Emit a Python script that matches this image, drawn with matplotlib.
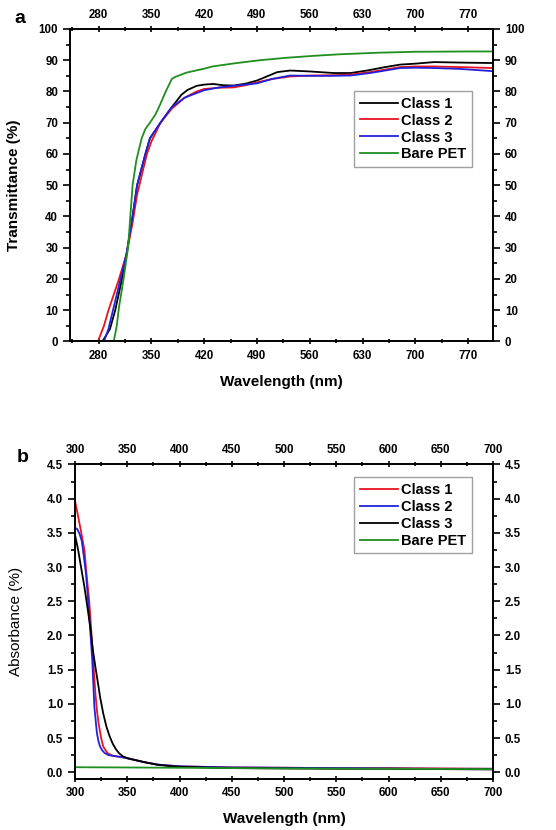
#UV-vis spectra, two stacked panels
import matplotlib.pyplot as plt
from matplotlib.ticker import MultipleLocator

plt.rcParams['font.family'] = ['Liberation Sans', 'DejaVu Sans']

# ---- panel a: transmittance data ----
x_a_c1 = [250, 285, 295, 302, 310, 317, 325, 331, 342, 348, 362, 377, 390, 398, 410, 420, 432, 445, 459,
          475, 490, 505, 517, 534, 560, 592, 614, 636, 660, 680, 700, 725, 770, 803]
t_c1 = [0, 0, 4, 10, 19, 28, 40, 50, 60, 65, 70, 75, 79, 80.5, 81.8, 82.2, 82.4, 82.0, 81.9,
        82.5, 83.5, 85.0, 86.2, 86.7, 86.4, 85.9, 85.9, 86.7, 87.8, 88.6, 88.9, 89.4, 89.2, 89.1]

x_a_c2 = [250, 279, 287, 293, 300, 307, 317, 325, 331, 344, 350, 362, 377, 394, 410, 420, 440, 459,
          475, 490, 510, 534, 560, 590, 614, 640, 680, 700, 725, 760, 803]
t_c2 = [0, 0, 5, 10, 15, 20, 28, 38, 47, 60, 64, 70, 74.5, 78, 80, 80.8, 81.2, 81.3,
        82, 82.9, 84, 84.8, 85.1, 85.2, 85.4, 86.2, 87.8, 88, 88, 87.8, 87.5]

x_a_c3 = [250, 287, 293, 299, 306, 312, 317, 325, 331, 342, 348, 362, 377, 394, 410, 420, 440, 459,
          475, 490, 510, 534, 560, 590, 614, 640, 680, 700, 725, 760, 803]
t_c3 = [0, 0, 4, 10, 17, 23, 28, 40, 50, 60, 65, 70, 75, 78, 79.5, 80.4, 81.3, 81.8,
        82.2, 82.6, 84, 85.1, 85.0, 85.0, 85.1, 85.9, 87.5, 87.6, 87.5, 87.2, 86.5]

x_a_pet = [250, 300, 304, 307, 313, 319, 325, 330, 337, 342, 348, 355, 360, 369, 377, 381, 396, 420,
           431, 460, 494, 530, 565, 600, 650, 700, 770, 803]
t_pet = [0, 0, 5, 11, 20, 30, 50, 58, 65, 68, 70, 72.5, 75, 80, 84, 84.6, 86, 87.3,
         88, 89, 90, 90.8, 91.4, 91.9, 92.4, 92.7, 92.8, 92.8]

# ---- panel b: absorbance data ----
x_b_c1 = [300, 303, 306, 309, 311, 313.5, 315, 316.5, 318, 319.5, 321, 322.5, 325, 327, 331, 336,
          345, 352, 365, 380, 400, 450, 500, 550, 600, 650, 700]
a_c1 = [3.97, 3.74, 3.5, 3.25, 2.9, 2.52, 2.2, 1.84, 1.5, 1.15, 0.9, 0.72, 0.5, 0.375, 0.28, 0.24,
        0.22, 0.2, 0.15, 0.11, 0.085, 0.07, 0.065, 0.06, 0.06, 0.055, 0.05]

x_b_c2 = [300, 302, 304.5, 306.5, 308.5, 310.5, 312, 313.5, 315, 316.5, 317.5, 318.5, 320, 321, 322.5,
          324, 326, 328.4, 332, 336, 345, 351, 365, 380, 400, 450, 500, 550, 600, 650, 700]
a_c2 = [3.57, 3.56, 3.48, 3.38, 3.15, 2.9, 2.62, 2.32, 1.98, 1.64, 1.3, 0.96, 0.72, 0.57, 0.45,
        0.375, 0.32, 0.28, 0.25, 0.24, 0.22, 0.2, 0.15, 0.11, 0.085, 0.07, 0.065, 0.06, 0.055, 0.05, 0.05]

x_b_c3 = [300, 303, 306, 309, 312, 315, 317, 319.5, 322, 324, 327, 330, 333, 336, 339, 342, 346, 351,
          357, 363, 370, 378, 390, 400, 425, 450, 500, 550, 600, 650, 700]
a_c3 = [3.47, 3.25, 2.98, 2.71, 2.4, 2.08, 1.8, 1.54, 1.3, 1.1, 0.86, 0.67, 0.53, 0.42, 0.34, 0.28, 0.23, 0.2,
        0.18, 0.16, 0.135, 0.11, 0.09, 0.08, 0.07, 0.06, 0.055, 0.05, 0.05, 0.045, 0.04]

x_b_pet = [300, 400, 500, 600, 700]
a_pet = [0.073, 0.065, 0.055, 0.05, 0.045]

legend_labels = ['Class 1', 'Class 2', 'Class 3', 'Bare PET']

red = '#e8141c'
blue = '#2222dd'
green = '#1f8f1f'

fig = plt.figure(figsize=(5.56, 8.30), dpi=100)
ax1 = fig.add_axes([0.1259, 0.5886, 0.7608, 0.3765])
ax2 = fig.add_axes([0.1349, 0.0614, 0.7518, 0.3790])


def style_axes(ax):
    for s in ax.spines.values():
        s.set_linewidth(1.4)
    ax.tick_params(which='both', top=True, right=True, labeltop=True, labelright=True,
                   labelsize=8.3, width=1.2)
    ax.tick_params(axis='x', which='both', direction='inout')
    ax.tick_params(axis='y', which='both', direction='out')
    ax.tick_params(which='major', length=5)
    ax.tick_params(which='minor', length=3)
    for lab in ax.get_xticklabels() + ax.get_yticklabels():
        lab.set_fontweight('bold')


def add_legend(ax, x0, y0):
    leg = ax.legend(loc='upper left', bbox_to_anchor=(x0, y0), fancybox=False,
                    edgecolor='#888888', prop={'weight': 'bold', 'size': 10.5},
                    handlelength=2.6, handletextpad=0.25, labelspacing=0.2,
                    borderpad=0.4, borderaxespad=0)
    leg.get_frame().set_linewidth(1.0)


# panel a
ax1.plot(x_a_c1, t_c1, color='black', lw=1.3, label=legend_labels[0])
ax1.plot(x_a_c2, t_c2, color=red, lw=1.3, label=legend_labels[1])
ax1.plot(x_a_c3, t_c3, color=blue, lw=1.3, label=legend_labels[2])
ax1.plot(x_a_pet, t_pet, color=green, lw=1.3, label=legend_labels[3])
ax1.set_xlim(242, 803)
ax1.set_ylim(0, 100)
ax1.set_xticks(range(280, 800, 70))
ax1.xaxis.set_minor_locator(MultipleLocator(35))
ax1.set_yticks(range(0, 101, 10))
ax1.yaxis.set_minor_locator(MultipleLocator(5))
style_axes(ax1)
ax1.set_xlabel('Wavelength (nm)', fontsize=11, fontweight='bold')
ax1.xaxis.set_label_coords(0.5, -0.107)
ax1.set_ylabel('Transmittance (%)', fontsize=11, fontweight='bold')
ax1.yaxis.set_label_coords(-0.116, 0.5)
add_legend(ax1, 0.671, 0.802)
fig.text(0.025, 0.978, 'a', fontsize=14, fontweight='bold', ha='left', va='center')

# panel b
ax2.plot(x_b_c1, a_c1, color=red, lw=1.3, label=legend_labels[0])
ax2.plot(x_b_c2, a_c2, color=blue, lw=1.3, label=legend_labels[1])
ax2.plot(x_b_c3, a_c3, color='black', lw=1.3, label=legend_labels[2])
ax2.plot(x_b_pet, a_pet, color=green, lw=1.3, label=legend_labels[3])
ax2.set_xlim(300, 700)
ax2.set_ylim(-0.1, 4.5)
ax2.set_xticks(range(300, 701, 50))
ax2.xaxis.set_minor_locator(MultipleLocator(25))
ax2.set_yticks([i * 0.5 for i in range(10)])
ax2.yaxis.set_major_formatter(plt.FormatStrFormatter('%.1f'))
ax2.yaxis.set_minor_locator(MultipleLocator(0.25))
style_axes(ax2)
ax2.set_xlabel('Wavelength (nm)', fontsize=11, fontweight='bold')
ax2.xaxis.set_label_coords(0.5, -0.105)
ax2.set_ylabel('Absorbance (%)', fontsize=11)
ax2.yaxis.set_label_coords(-0.124, 0.5)
add_legend(ax2, 0.667, 0.96)
fig.text(0.03, 0.449, 'b', fontsize=14, fontweight='bold', ha='left', va='center')

fig.savefig('out.png', dpi=100, facecolor='white')
